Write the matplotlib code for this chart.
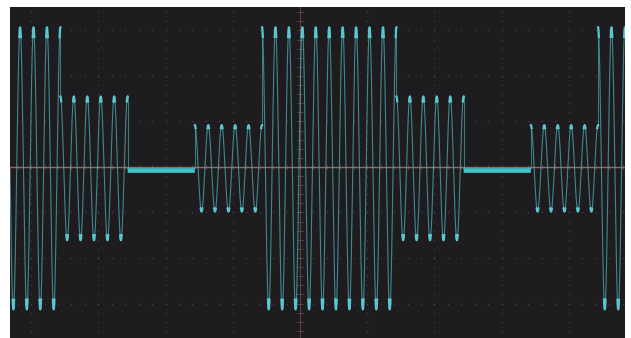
import numpy as np
import matplotlib
matplotlib.use("Agg")
import matplotlib.pyplot as plt

# Symbol amplitudes (divisions), each symbol lasts 5 carrier cycles
symbol_levels = [3.1, 3.1, 1.58, 0.0, 0.95]
cycles_per_symbol = 5
carrier_px_period = 13.44   # carrier period in pixels of the screen
px_per_div_x = 67.2
baseline = -0.03            # trace offset (div)
first_full_start = -0.565   # x (div) where a full-amplitude burst starts

# view window (divisions)
x_min, x_max = -4.315, 4.836
y_min, y_max = -3.758, 3.516

fig = plt.figure(figsize=(6.31, 3.38), dpi=100, facecolor="white")
ax = fig.add_axes([10/631, 0, 615/631, 331/338])
ax.set_facecolor("#1e1c1f")
ax.set_xlim(x_min, x_max)
ax.set_ylim(y_min, y_max)
for s in ax.spines.values():
    s.set_visible(False)
ax.set_xticks([]); ax.set_yticks([])

# graticule dots
grid_col = "#6c6a6e"
gx = np.arange(-5, 6)
gy = np.arange(-4, 5)
minor = np.arange(-40, 41) / 5.0
for k in gx:
    if k == 0:
        continue
    ax.scatter(np.full_like(minor, k), minor, s=1.0, c=grid_col, alpha=0.45, lw=0, zorder=1)
for k in gy:
    if k == 0:
        continue
    ax.scatter(minor, np.full_like(minor, k), s=1.0, c=grid_col, alpha=0.45, lw=0, zorder=1)

# center crosshair
cross_col = "#a8786c"
ax.axhline(0, color=cross_col, lw=1.0, alpha=0.85, zorder=2)
ax.axvline(0, color=cross_col, lw=0.7, alpha=0.45, zorder=2)
tk = np.arange(-40, 41) / 5.0
for v in tk:
    ax.plot([v, v], [-0.05, 0.05], color=cross_col, lw=0.5, alpha=0.5, zorder=2)
    ax.plot([-0.04, 0.04], [v, v], color=cross_col, lw=0.5, alpha=0.5, zorder=2)

# trace
cyc_div = carrier_px_period / px_per_div_x
x = np.linspace(x_min, x_max, 40000)
t = (x - first_full_start) / cyc_div
n_sym = len(symbol_levels)
sym_idx = np.floor(t / cycles_per_symbol).astype(int) % n_sym
amp = np.array(symbol_levels)[sym_idx]
carrier = np.cos(2 * np.pi * t)
y = baseline + amp * carrier

# break the line where the amplitude steps (draw steps faintly)
jump = np.concatenate([[False], np.diff(amp) != 0])
y_main = y.copy()
y_main[jump] = np.nan

trace_col = "#4db7bf"
ax.plot(x, y_main, color=trace_col, lw=0.8, alpha=0.7, zorder=3)
jx = np.where(jump)[0]
for j in jx:
    ax.plot([x[j], x[j]], [y[j - 1], y[j]], color=trace_col, lw=0.8, alpha=0.6, zorder=3)

# bright crests (phosphor dwell near peaks)
y_peak = np.where(np.abs(carrier) > 0.93, y_main, np.nan)
y_peak = np.where(amp > 0, y_peak, np.nan)
ax.plot(x, y_peak, color="#5fd0d8", lw=1.6, alpha=0.9, zorder=4)

# flat zero-amplitude segments
y_flat = np.where(amp == 0, baseline - 0.05, np.nan)
ax.plot(x, y_flat, color="#3fc4cc", lw=3.2, zorder=4, solid_capstyle="butt")

fig.savefig("out.png", dpi=100, facecolor="white")
